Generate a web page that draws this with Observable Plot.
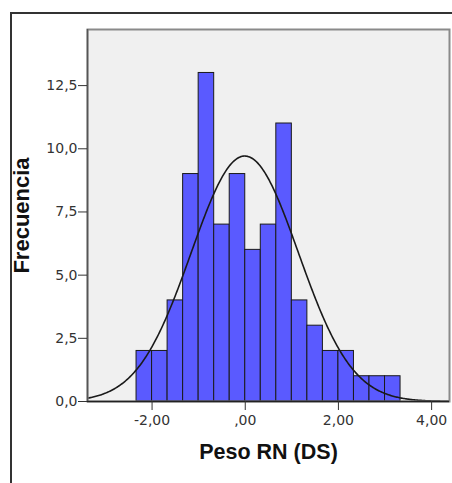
<!DOCTYPE html>
<html><head><meta charset="utf-8">
<script src="https://cdn.jsdelivr.net/npm/d3@7"></script>
<script src="https://cdn.jsdelivr.net/npm/@observablehq/plot@0.6"></script>
<style>
body{margin:0;background:#fff;}
#wrap{position:relative;width:452px;height:483px;overflow:hidden;}
#outer{position:absolute;left:10px;top:12px;width:460px;height:480px;border-left:2px solid #333;border-top:2px solid #333;pointer-events:none;}
svg{font-family:"Liberation Sans",Arial,sans-serif;}
</style></head><body><div id="wrap"><div id="chart"></div><div id="outer"></div></div>
<script>
// Histogram counts per bin (bins of width 1/3 from -2,33 to 3,33)
const counts = [2, 2, 4, 9, 13, 7, 9, 6, 7, 11, 4, 3, 2, 2, 1, 1, 1];
const binStart = -7 / 3;
const binWidth = 1 / 3;
const xTicks = [-2, 0, 2, 4];
const yTicks = [0, 2.5, 5, 7.5, 10, 12.5];
const xDomain = [-3.386, 4.384];
const yDomain = [0, 14.72];
// fitted normal parameters
const fitMean = -0.01;
const fitSD = 1.15;
const xLabel = "Peso RN (DS)";
const yLabel = "Frecuencia";

const bins = counts.map((c, i) => ({x1: binStart + i * binWidth, x2: binStart + (i + 1) * binWidth, y: c}));
const N = d3.sum(counts);
const curve = d3.range(xDomain[0], xDomain[1] + 0.001, 0.02).map(x => ({
  x, y: N * binWidth / (fitSD * Math.sqrt(2 * Math.PI)) * Math.exp(-((x - fitMean) ** 2) / (2 * fitSD * fitSD))
}));
const fx = d => d === 0 ? ",00" : d.toFixed(2).replace(".", ",");
const fy = d => d.toFixed(1).replace(".", ",");
const tickFont = "DejaVu Sans, Verdana, sans-serif";

const chart = Plot.plot({
  width: 452, height: 483,
  marginTop: 29, marginLeft: 87, marginRight: 3, marginBottom: 82,
  style: {background: "transparent", fontFamily: "Liberation Sans, Arial, sans-serif"},
  x: {domain: xDomain},
  y: {domain: yDomain},
  marks: [
    Plot.frame({fill: "#f0f0f0", stroke: null}),
    Plot.rectY(bins, {x1: "x1", x2: "x2", y: "y", fill: "#5a5aff", stroke: "#1a1a1a", strokeWidth: 1}),
    Plot.line(curve, {x: "x", y: "y", stroke: "#1a1a1a", strokeWidth: 1.6, clip: true}),
    Plot.frame({stroke: "#8a8a8a", strokeWidth: 2}),
    Plot.ruleY([0], {stroke: "#222", strokeWidth: 1.5}),
    Plot.ruleX([xDomain[0]], {stroke: "#555", strokeWidth: 1.5}),
    Plot.axisY(yTicks, {tickFormat: fy, tickSize: 9, tickPadding: 1, fontSize: 14, fontFamily: tickFont, color: "#333", label: null, stroke: "#333"}),
    Plot.axisX(xTicks, {tickFormat: fx, tickSize: 9, tickPadding: 5, fontSize: 14, fontFamily: tickFont, color: "#333", label: null, stroke: "#333"}),
    Plot.text([yLabel], {frameAnchor: "left", textAnchor: "middle", dx: -66, rotate: -90, fontWeight: "bold", fontSize: 22, fill: "#111", text: d => d}),
    Plot.text([xLabel], {frameAnchor: "bottom", dy: 57, fontWeight: "bold", fontSize: 21.5, fill: "#111", text: d => d})
  ]
});
document.getElementById("chart").appendChild(chart);
</script></body></html>
